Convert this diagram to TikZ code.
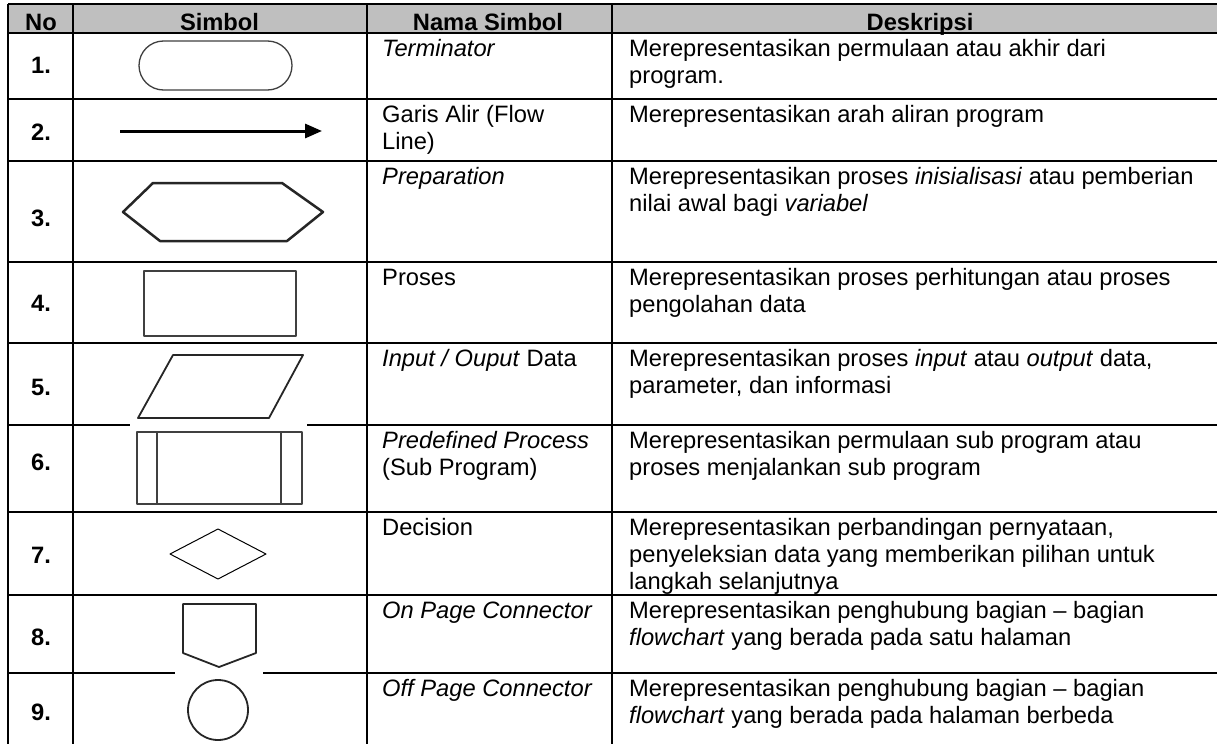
\documentclass[tikz,border=0pt]{standalone}
\usepackage{fontspec}
\setmainfont{Liberation Sans}
\usetikzlibrary{arrows.meta}
\definecolor{hdrgray}{RGB}{191,191,191}
\newcommand\cellfont{\fontsize{23.7}{27}\selectfont}
\newcommand\topstrut{\rule{0pt}{20pt}}
\begin{document}
\begin{tikzpicture}[x=1pt,y=-1pt,
  grid/.style={line width=1.3pt,black},
  shp/.style={line width=1.8pt,black!85,line join=round},
  thinshp/.style={line width=1.3pt,black!75,line join=round},
  numtxt/.style={font=\cellfont\bfseries,inner sep=0},
  hdrtxt/.style={font=\cellfont\bfseries,anchor=base,inner sep=0},
  cell/.style={font=\cellfont,anchor=north west,align=left,inner sep=0}]
\useasboundingbox[fill=white] (0,0) rectangle (1217,744);
% header
\fill[hdrgray] (8,4) rectangle (1217,33);
% horizontal lines
\draw[grid] (8,4) -- (1217,4);
\foreach \yy in {33,99,161,262,343,512,595} \draw[grid] (8,\yy) -- (1217,\yy);
\draw[grid] (8,425) -- (130,425);
\draw[grid] (307,425) -- (1217,425);
\draw[grid] (8,673) -- (175,673);
\draw[grid] (263,673) -- (1217,673);
% vertical lines
\foreach \xx in {8,73,367,612} \draw[grid] (\xx,4) -- (\xx,744);
% header texts
\node[hdrtxt] (h1) at (41,30.5) {No};
\node[hdrtxt] (h2) at (219.5,30.5) {Simbol};
\node[hdrtxt] (h3) at (488,30.5) {Nama Simbol};
\node[hdrtxt] (h4) at (920,30.5) {Deskripsi};
% numbers
\node[numtxt] (n1) at (41,65) {1.};
\node[numtxt] (n2) at (41,132) {2.};
\node[numtxt] (n3) at (41,218) {3.};
\node[numtxt] (n4) at (41,303) {4.};
\node[numtxt] (n5) at (41,387) {5.};
\node[numtxt] (n6) at (41,462) {6.};
\node[numtxt] (n7) at (41,555) {7.};
\node[numtxt] (n8) at (41,637) {8.};
\node[numtxt] (n9) at (41,712) {9.};
% names
\node[cell] (s1) at (382,36) {\topstrut\textit{Terminator}};
\node[cell] (s2) at (382,102) {\topstrut Garis Alir (Flow\\Line)};
\node[cell] (s3) at (382,164) {\topstrut\textit{Preparation}};
\node[cell] (s4) at (382,265) {\topstrut Proses};
\node[cell] (s5) at (382,346) {\topstrut\textit{Input / Ouput} Data};
\node[cell] (s6) at (382,428) {\topstrut\textit{Predefined Process}\\(Sub Program)};
\node[cell] (s7) at (382,515) {\topstrut Decision};
\node[cell] (s8) at (382,598) {\topstrut\textit{On Page Connector}};
\node[cell] (s9) at (382,676) {\topstrut\textit{Off Page Connector}};
% descriptions
\node[cell] (d1) at (629,36) {\topstrut Merepresentasikan permulaan atau akhir dari\\program.};
\node[cell] (d2) at (629,102) {\topstrut Merepresentasikan arah aliran program};
\node[cell] (d3) at (629,164) {\topstrut Merepresentasikan proses \textit{inisialisasi} atau pemberian\\nilai awal bagi \textit{variabel}};
\node[cell] (d4) at (629,265) {\topstrut Merepresentasikan proses perhitungan atau proses\\pengolahan data};
\node[cell] (d5) at (629,346) {\topstrut Merepresentasikan proses \textit{input} atau \textit{output} data,\\parameter, dan informasi};
\node[cell] (d6) at (629,428) {\topstrut Merepresentasikan permulaan sub program atau\\proses menjalankan sub program};
\node[cell] (d7) at (629,515) {\topstrut Merepresentasikan perbandingan pernyataan,\\penyeleksian data yang memberikan pilihan untuk\\langkah selanjutnya};
\node[cell] (d8) at (629,598) {\topstrut Merepresentasikan penghubung bagian – bagian\\\textit{flowchart} yang berada pada satu halaman};
\node[cell] (d9) at (629,676) {\topstrut Merepresentasikan penghubung bagian – bagian\\\textit{flowchart} yang berada pada halaman berbeda};
% symbols
% 1 terminator
\draw[thinshp,rounded corners=24.5pt] (139,41) rectangle (292,90);
% 2 flow line
\coordinate (fa) at (120,131);
\coordinate (fb) at (322,131);
\draw[line width=3pt,black,-{Triangle[length=17pt,width=14pt]}] (fa) -- (fb);
% 3 preparation
\draw[shp,line width=2.5pt] (123,212) -- (153,183) -- (282,183) -- (323,212) -- (287,241) -- (160,241) -- cycle;
% 4 process
\draw[thinshp] (144,271) rectangle (296,336);
% 5 input/output
\draw[shp] (173,355) -- (303,355) -- (269,418) -- (138,418) -- cycle;
% 6 predefined process
\draw[thinshp] (137,432) rectangle (302,504);
\draw[thinshp] (157,432) -- (157,504);
\draw[thinshp] (281,432) -- (281,504);
% 7 decision
\draw[line width=1pt,black,line join=round] (170,554) -- (218,529) -- (266,554) -- (218,579) -- cycle;
% 8 on page connector
\draw[shp] (183,604) -- (256,604) -- (256,653) -- (219,667) -- (183,653) -- cycle;
% 9 off page connector
\draw[shp] (218,710) circle[radius=30];
\end{tikzpicture}
\end{document}
